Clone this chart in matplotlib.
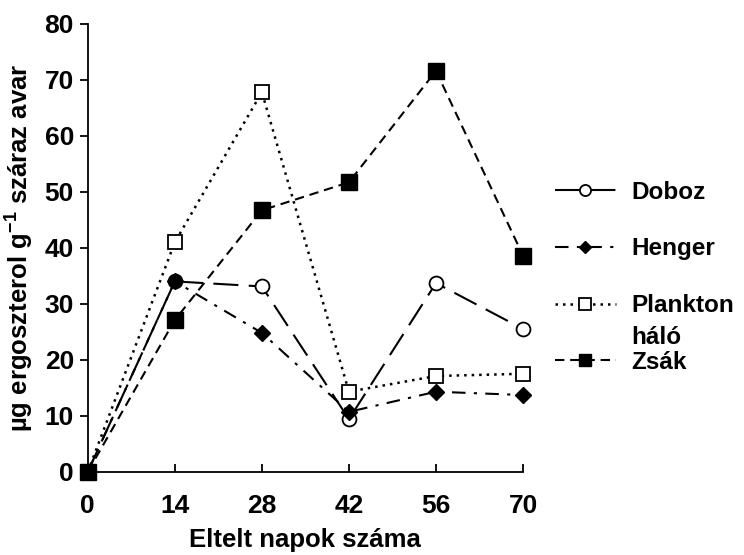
import matplotlib
matplotlib.use('Agg')
import matplotlib.pyplot as plt

# Adatok
napok = [0, 14, 28, 42, 56, 70]
doboz = [0, 34.0, 33.1, 9.4, 33.7, 25.5]
henger = [0, 34.0, 24.8, 10.7, 14.3, 13.7]
plankton = [0, 41.0, 67.8, 14.3, 17.1, 17.5]
zsak = [0, 27.1, 46.7, 51.7, 71.6, 38.6]

plt.rcParams['font.family'] = 'Liberation Sans'
plt.rcParams['font.weight'] = 'bold'
plt.rcParams['mathtext.fontset'] = 'custom'
plt.rcParams['mathtext.rm'] = 'Liberation Sans:bold'
plt.rcParams['mathtext.bf'] = 'Liberation Sans:bold'
plt.rcParams['mathtext.default'] = 'bf'

fig = plt.figure(figsize=(7.44, 5.55), dpi=100)
ax = fig.add_axes([0.118, 0.150, 0.585, 0.807])

ax.plot(napok, doboz, color='black', lw=1.5, dashes=(12, 5), marker='o',
        ms=10, mfc='white', mec='black', mew=1.3, label='Doboz', clip_on=False)
ax.plot(napok, henger, color='black', lw=1.5, dashes=(6.5, 4, 1.5, 4), marker='D',
        ms=8, mfc='black', mec='black', label='Henger', clip_on=False)
ax.plot(napok, plankton, color='black', lw=1.8, dashes=(1, 2.0), marker='s',
        ms=10.5, mfc='white', mec='black', mew=1.3, label='Plankton', clip_on=False)
ax.plot(napok, zsak, color='black', lw=1.5, dashes=(4.5, 2.8), marker='s',
        ms=11, mfc='black', mec='black', label='Zsák', clip_on=False)

ax.set_xlim(0, 70)
ax.set_ylim(0, 80)
ax.set_xticks(napok)
ax.set_yticks(range(0, 81, 10))
ax.spines['top'].set_visible(False)
ax.spines['right'].set_visible(False)
ax.spines['left'].set_linewidth(1.3)
ax.spines['bottom'].set_linewidth(1.3)
ax.tick_params(axis='y', direction='out', length=6, width=1.3, labelsize=19, pad=4)
ax.tick_params(axis='x', direction='in', length=6, width=1.3, labelsize=19, pad=16)

ax.set_xlabel('Eltelt napok száma', fontsize=18.5, fontweight='bold', labelpad=7)
ax.set_ylabel(r'µg ergoszterol g$^{-1}$ száraz avar', fontsize=18.5,
              fontweight='bold', labelpad=6)

leg = ax.legend(loc='upper left', bbox_to_anchor=(0.746, 0.674),
                bbox_transform=fig.transFigure, frameon=False, fontsize=17.5,
                handlelength=2.5, handletextpad=0.65, labelspacing=1.38,
                markerscale=0.8, borderpad=0, borderaxespad=0)

fig.canvas.draw()
renderer = fig.canvas.get_renderer()
bb = leg.get_texts()[2].get_window_extent(renderer)
x0, _ = fig.transFigure.inverted().transform((bb.x0, bb.y0))
_, yc = fig.transFigure.inverted().transform((0, (bb.y0 + bb.y1) / 2))
fig.text(x0, yc - 32 / 555, 'háló', fontsize=17.5, fontweight='bold', va='center', ha='left')

fig.savefig('out.png', dpi=100)
